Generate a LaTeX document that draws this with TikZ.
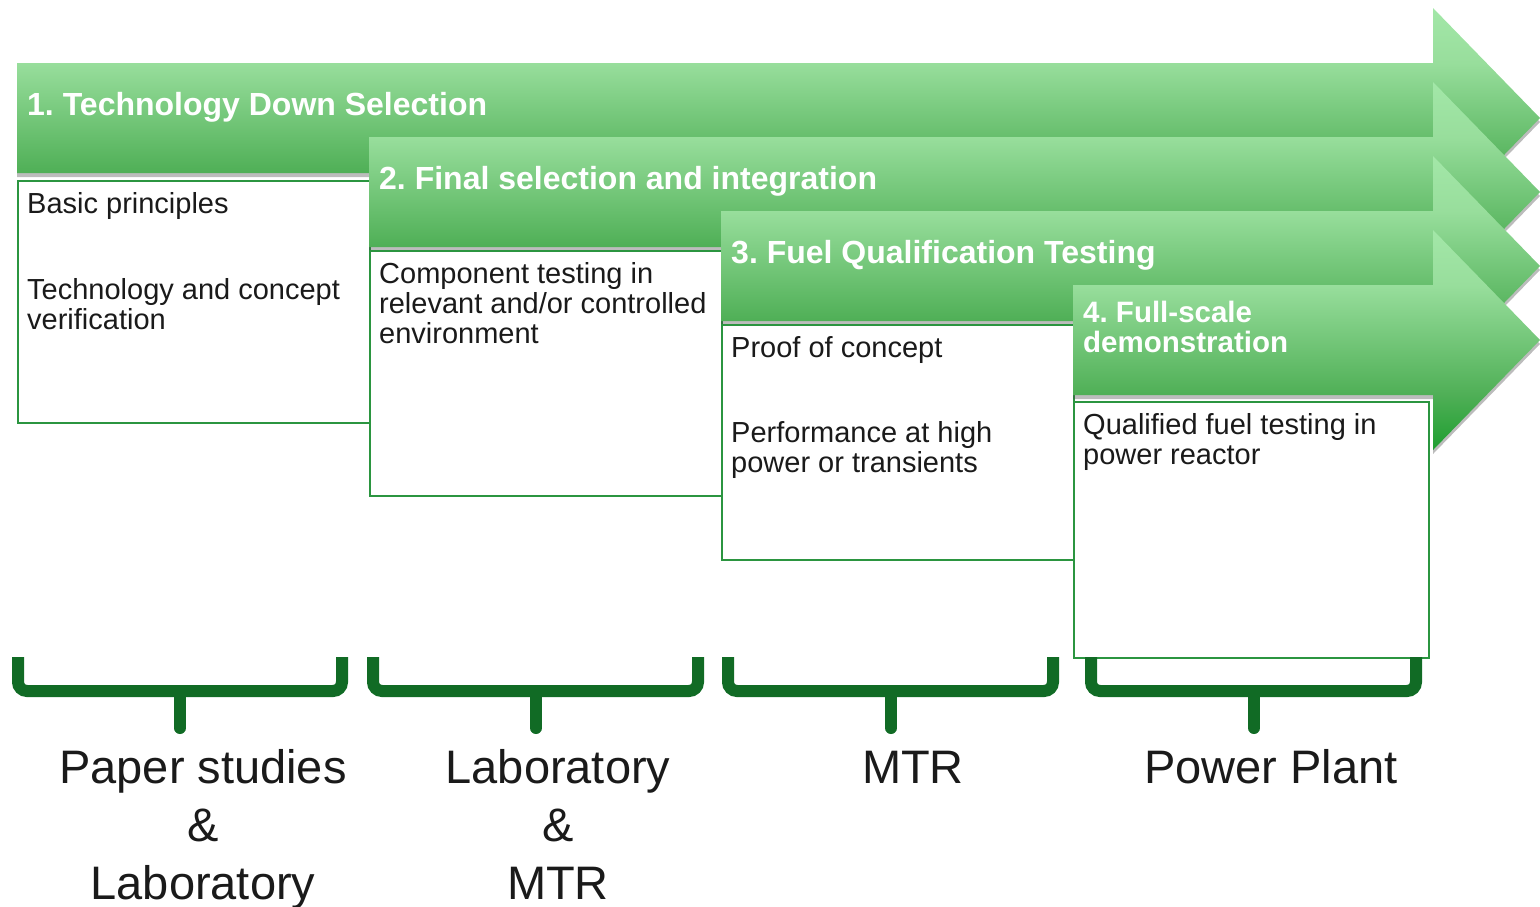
\documentclass[tikz,border=0pt]{standalone}
\usepackage{fontspec}
\setmainfont{Liberation Sans}
\usetikzlibrary{shadows}
\frenchspacing
\definecolor{headtop}{HTML}{A3E7A8}
\definecolor{bodytop}{HTML}{98DE9C}
\definecolor{bodybot}{HTML}{4FAF56}
\definecolor{headbot}{HTML}{1E9E30}
\definecolor{boxgreen}{HTML}{2B9540}
\definecolor{brgreen}{HTML}{116B25}
\definecolor{txt}{HTML}{1A1A1A}
\pgfdeclareverticalshading{arrowshade}{100bp}{color(0bp)=(headbot); color(25bp)=(headbot); color(37.5bp)=(bodybot); color(62.5bp)=(bodytop); color(75bp)=(headtop); color(100bp)=(headtop)}
\newcommand\hdfont{\fontsize{32}{32}\selectfont\bfseries}
\newcommand\hdsmallfont{\fontsize{29.5}{30}\selectfont\bfseries}
\newcommand\bdfont{\fontsize{29}{30}\selectfont}
\newcommand\lbfont{\fontsize{47}{57}\selectfont}
\tikzset{
  arrowstyle/.style={shade, shading=arrowshade,
    drop shadow={shadow xshift=0pt, shadow yshift=-4pt, opacity=.35, fill=black!75}},
  phasebox/.style={draw=boxgreen, line width=2pt, fill=white, inner sep=0pt, anchor=north west},
  headtext/.style={text=white, font=\hdfont, inner sep=0pt, anchor=base west},
  bodytext/.style={text=txt, font=\bdfont, inner sep=0pt, anchor=base west},
  labeltext/.style={text=txt, font=\lbfont, inner sep=0pt, anchor=base},
  bracket/.style={draw=brgreen, line width=12pt, rounded corners=9pt},
  bracketstem/.style={draw=brgreen, line width=12pt, line cap=round},
}
\newcommand\phasearrow[3]{%
  \path[arrowstyle] (#2,#3) coordinate (#1-nw) -- (1433,#3) -- (1433,#3-55)
    -- (1540,#3+55) coordinate (#1-tip) -- (1433,#3+165) -- (1433,#3+110) -- (#2,#3+110) -- cycle;}
\newcommand\phasebrace[4]{% name, left x, stem x, right x
  \coordinate (#1-l) at (#2,657);
  \coordinate (#1-r) at (#4,657);
  \coordinate (#1-m) at (#3,691);
  \coordinate (#1-s) at (#3,728);
  \draw[bracket] (#1-l) |- (#1-m) -| (#1-r);
  \draw[bracketstem] (#1-m) -- (#1-s);}
\begin{document}
\begin{tikzpicture}[x=1pt,y=-1pt]
\useasboundingbox (0,0) rectangle (1540,906);
% phase 1
\phasearrow{a1}{17}{63}
\node[phasebox, minimum width=352pt, minimum height=242pt] (b1) at (17,180) {};
\node[headtext] (h1) at (27,115) {1. Technology Down Selection};
\node[bodytext] (t1a) at (27,213) {Basic principles};
\node[bodytext] (t1b) at (27,299) {Technology and concept};
\node[bodytext] (t1c) at (27,329) {verification};
% phase 2
\phasearrow{a2}{369}{137}
\node[phasebox, minimum width=352pt, minimum height=245pt] (b2) at (369,250) {};
\node[headtext] (h2) at (379,189) {2. Final selection and integration};
\node[bodytext] (t2a) at (379,283) {Component testing in};
\node[bodytext] (t2b) at (379,313) {relevant and/or controlled};
\node[bodytext] (t2c) at (379,343) {environment};
% phase 3
\phasearrow{a3}{721}{211}
\node[phasebox, minimum width=352pt, minimum height=235pt] (b3) at (721,324) {};
\node[headtext] (h3) at (731,263) {3. Fuel Qualification Testing};
\node[bodytext] (t3a) at (731,357) {Proof of concept};
\node[bodytext] (t3b) at (731,442) {Performance at high};
\node[bodytext] (t3c) at (731,472) {power or transients};
% phase 4
\phasearrow{a4}{1073}{285}
\node[phasebox, minimum width=355pt, minimum height=256pt] (b4) at (1073,401) {};
\node[headtext, font=\hdsmallfont] (h4a) at (1083,322) {4. Full-scale};
\node[headtext, font=\hdsmallfont] (h4b) at (1083,352) {demonstration};
\node[bodytext] (t4a) at (1083,434) {Qualified fuel testing in};
\node[bodytext] (t4b) at (1083,464) {power reactor};
% brackets
\phasebrace{br1}{18}{180}{342}
\phasebrace{br2}{373}{536}{698}
\phasebrace{br3}{728}{891}{1053}
\phasebrace{br4}{1091}{1254}{1416}
% labels
\node[labeltext] (l1a) at (203,783) {Paper studies};
\node[labeltext] (l1b) at (203,841) {\&};
\node[labeltext] (l1c) at (203,899) {Laboratory};
\node[labeltext] (l2a) at (558,783) {Laboratory};
\node[labeltext] (l2b) at (558,841) {\&};
\node[labeltext] (l2c) at (558,899) {MTR};
\node[labeltext] (l3) at (913,783) {MTR};
\node[labeltext] (l4) at (1271,783) {Power Plant};
\end{tikzpicture}
\end{document}
